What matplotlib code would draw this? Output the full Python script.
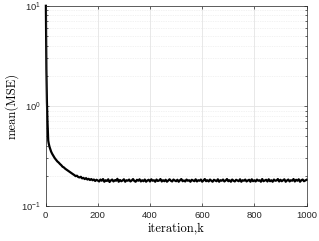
import numpy as np
import matplotlib
matplotlib.use("Agg")
import matplotlib.pyplot as plt
from matplotlib.ticker import LogLocator, NullFormatter

# Early iterations (fast decay)
early_k = [1, 2, 3, 4, 5, 6, 7, 8, 9, 10, 12, 15, 18, 21, 25, 30, 35, 40, 45, 50,
           55, 60, 65, 70, 75, 80, 85, 90, 95, 100]
early_mse = [10.0, 4.2, 2.3, 1.5, 1.1, 0.86, 0.72, 0.62, 0.52, 0.45, 0.42, 0.39, 0.368, 0.35, 0.333,
             0.316, 0.301, 0.29, 0.279, 0.272, 0.263, 0.256, 0.247, 0.243, 0.236, 0.231, 0.226, 0.221,
             0.217, 0.212]

# Settling phase, k = 105..200 step 5
settle_mse = [0.208, 0.204, 0.199, 0.201, 0.195, 0.193, 0.196, 0.189, 0.191, 0.186,
              0.190, 0.184, 0.187, 0.182, 0.186, 0.181, 0.184, 0.178, 0.183, 0.180]

# Plateau, k = 205..1000 step 5
plateau_mse = [
    0.176, 0.184, 0.179, 0.186, 0.175, 0.181, 0.178, 0.185, 0.174, 0.180,
    0.184, 0.176, 0.181, 0.179, 0.187, 0.175, 0.182, 0.177, 0.180, 0.185,
    0.175, 0.181, 0.179, 0.184, 0.176, 0.180, 0.186, 0.178, 0.175, 0.183,
    0.179, 0.185, 0.176, 0.181, 0.177, 0.184, 0.175, 0.180, 0.183, 0.176,
    0.185, 0.179, 0.181, 0.175, 0.184, 0.178, 0.180, 0.186, 0.176, 0.181,
    0.177, 0.183, 0.175, 0.180, 0.185, 0.179, 0.176, 0.184, 0.180, 0.177,
    0.183, 0.175, 0.181, 0.186, 0.177, 0.180, 0.176, 0.184, 0.179, 0.181,
    0.175, 0.183, 0.180, 0.177, 0.185, 0.176, 0.181, 0.179, 0.184, 0.175,
    0.180, 0.186, 0.177, 0.181, 0.176, 0.184, 0.179, 0.175, 0.183, 0.180,
    0.177, 0.185, 0.175, 0.181, 0.179, 0.184, 0.176, 0.180, 0.186, 0.177,
    0.181, 0.175, 0.184, 0.179, 0.176, 0.183, 0.180, 0.177, 0.185, 0.175,
    0.181, 0.179, 0.184, 0.176, 0.180, 0.183, 0.175, 0.185, 0.177, 0.181,
    0.176, 0.184, 0.179, 0.181, 0.175, 0.186, 0.177, 0.180, 0.183, 0.176,
    0.185, 0.177, 0.181, 0.175, 0.184, 0.179, 0.180, 0.186, 0.176, 0.183,
    0.177, 0.181, 0.185, 0.175, 0.180, 0.184, 0.176, 0.181, 0.179, 0.186,
    0.176, 0.183, 0.179, 0.185, 0.175, 0.181, 0.184, 0.177, 0.180, 0.183,
]

k = np.concatenate([early_k, np.arange(105, 201, 5), np.arange(205, 1001, 5)])
mse = np.concatenate([early_mse, settle_mse, plateau_mse])

x_ticks = [0, 200, 400, 600, 800, 1000]

plt.rcParams["font.family"] = ["Liberation Sans", "DejaVu Sans"]
plt.rcParams["mathtext.fontset"] = "custom"
plt.rcParams["mathtext.rm"] = "Liberation Sans"
plt.rcParams["mathtext.it"] = "Liberation Sans:italic"
plt.rcParams["mathtext.default"] = "regular"

fig = plt.figure(figsize=(3.19, 2.41), dpi=100)
ax = fig.add_axes([0.143, 0.145, 0.818, 0.831])

# MATLAB style: the curve is not clipped at the axes box
ax.plot(k, mse, color="black", linewidth=1.6, clip_on=False)

ax.set_yscale("log")
ax.set_xlim(0, 1000)
ax.set_ylim(0.1, 10)
ax.set_xticks(x_ticks)
ax.set_xticklabels([str(t) for t in x_ticks])
ax.yaxis.set_major_locator(LogLocator(base=10, numticks=5))
ax.yaxis.set_minor_locator(LogLocator(base=10, subs=np.arange(2, 10), numticks=20))
ax.yaxis.set_minor_formatter(NullFormatter())

ax.grid(True, which="major", color="#e4e4e4", linewidth=0.6)
ax.grid(True, which="minor", axis="y", color="#e6e6e6", linewidth=0.5, linestyle=(0, (1, 1.5)))
ax.set_axisbelow(True)

ax.tick_params(which="both", direction="in", top=True, right=True, labelsize=6.8,
               colors="#262626", width=0.5)
ax.tick_params(which="major", length=2.5)
ax.tick_params(which="minor", length=1.5)
for s in ax.spines.values():
    s.set_color("#262626")
    s.set_linewidth(0.5)

ax.set_xlabel("iteration,k", family="cmr10", fontsize=9, labelpad=2)
ax.set_ylabel("mean(MSE)", family="cmr10", fontsize=9, labelpad=2)

fig.savefig("out.png", dpi=100)
